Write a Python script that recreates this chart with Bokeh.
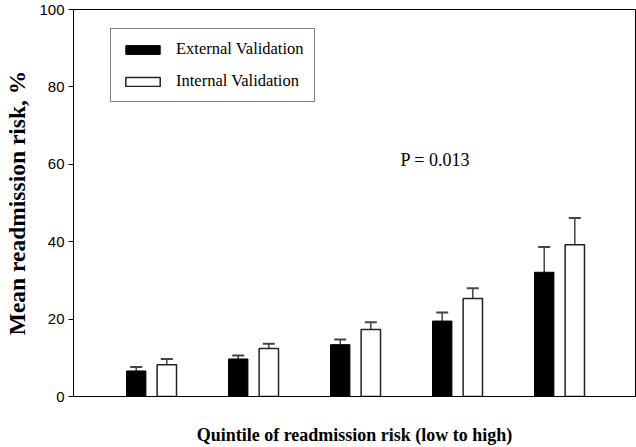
from bokeh.plotting import figure
from bokeh.models import (ColumnDataSource, Range1d, FixedTicker, Whisker, TeeHead,
                          Legend, LegendItem, Label)
from bokeh.transform import dodge
from bokeh.embed import file_html
from bokeh.resources import INLINE

# ---- data ----
quintiles = [1, 2, 3, 4, 5]
external_mean = [6.6, 9.7, 13.4, 19.5, 32.1]
external_err = [1.0, 0.9, 1.3, 2.2, 6.5]
internal_mean = [8.2, 12.4, 17.3, 25.3, 39.2]
internal_err = [1.5, 1.2, 1.9, 2.7, 6.9]
y_ticks = [0, 20, 40, 60, 80, 100]
p_value_text = "P = 0.013"

ext_upper = [m + e for m, e in zip(external_mean, external_err)]
int_upper = [m + e for m, e in zip(internal_mean, internal_err)]

src = ColumnDataSource(dict(
    q=quintiles,
    ext=external_mean, ext_up=ext_upper,
    inn=internal_mean, inn_up=int_upper,
))

SERIF = "Liberation Serif"
SANS = "Liberation Sans"
OFF = 0.15
BW = 0.19

p = figure(width=636, height=447, output_backend="svg", toolbar_location=None,
           x_range=Range1d(0.235, 5.745), y_range=Range1d(0, 100),
           min_border_left=73, min_border_right=1, min_border_top=9,
           min_border_bottom=49)
p.xgrid.visible = False
p.ygrid.visible = False
p.outline_line_color = "black"
p.outline_line_width = 1
p.outline_line_alpha = 1
p.background_fill_color = "white"
p.border_fill_color = "white"

# error bars (upper only)
for col_lo, col_up, off in (("ext", "ext_up", -OFF), ("inn", "inn_up", OFF)):
    w = Whisker(base=dodge("q", off), lower=col_lo, upper=col_up, source=src,
                dimension="height", line_color="#444444", line_width=1.5,
                upper_head=TeeHead(size=12, line_color="#444444", line_width=2),
                lower_head=None)
    p.add_layout(w)

r_ext = p.vbar(x=dodge("q", -OFF), top="ext", width=BW, bottom=0, source=src,
               fill_color="black", line_color="black", line_width=1)
r_int = p.vbar(x=dodge("q", OFF), top="inn", width=BW, bottom=0, source=src,
               fill_color="white", line_color="#222222", line_width=1.5)

# y axis
ya = p.yaxis[0]
ya.ticker = FixedTicker(ticks=y_ticks)
ya.minor_tick_line_color = None
ya.major_tick_out = 5
ya.major_tick_in = 0
ya.major_tick_line_color = "black"
ya.axis_line_color = "black"
ya.major_label_text_font = SANS
ya.major_label_text_font_size = "15px"
ya.major_label_text_color = "black"
ya.major_label_standoff = 4
ya.axis_label = "Mean readmission risk, %"
ya.axis_label_text_font = SERIF
ya.axis_label_text_font_style = "bold"
ya.axis_label_text_font_size = "23.5px"
ya.axis_label_text_color = "black"
ya.axis_label_standoff = 6

# x axis
xa = p.xaxis[0]
xa.ticker = FixedTicker(ticks=[])
xa.major_tick_line_color = None
xa.minor_tick_line_color = None
xa.major_label_text_font_size = "0px"
xa.axis_line_color = "black"
xa.axis_label = "Quintile of readmission risk (low to high)"
xa.axis_label_text_font = SERIF
xa.axis_label_text_font_style = "bold"
xa.axis_label_text_font_size = "18px"
xa.axis_label_text_color = "black"
xa.axis_label_standoff = 28

legend = Legend(items=[LegendItem(label="External Validation", renderers=[r_ext]),
                       LegendItem(label="Internal Validation", renderers=[r_int])],
                location=(37, 294), glyph_width=43, glyph_height=11,
                label_height=20, spacing=12, padding=10, margin=0,
                label_standoff=12, label_text_font=SERIF, label_text_font_size="16.5px",
                label_text_color="black", border_line_color="black", border_line_width=1,
                background_fill_alpha=1)
p.add_layout(legend)

p.add_layout(Label(x=3.44, y=61.0, text=p_value_text, text_font=SERIF,
                   text_font_size="18px", text_baseline="middle", text_color="black"))

open("out.html", "w").write(file_html(p, INLINE))
